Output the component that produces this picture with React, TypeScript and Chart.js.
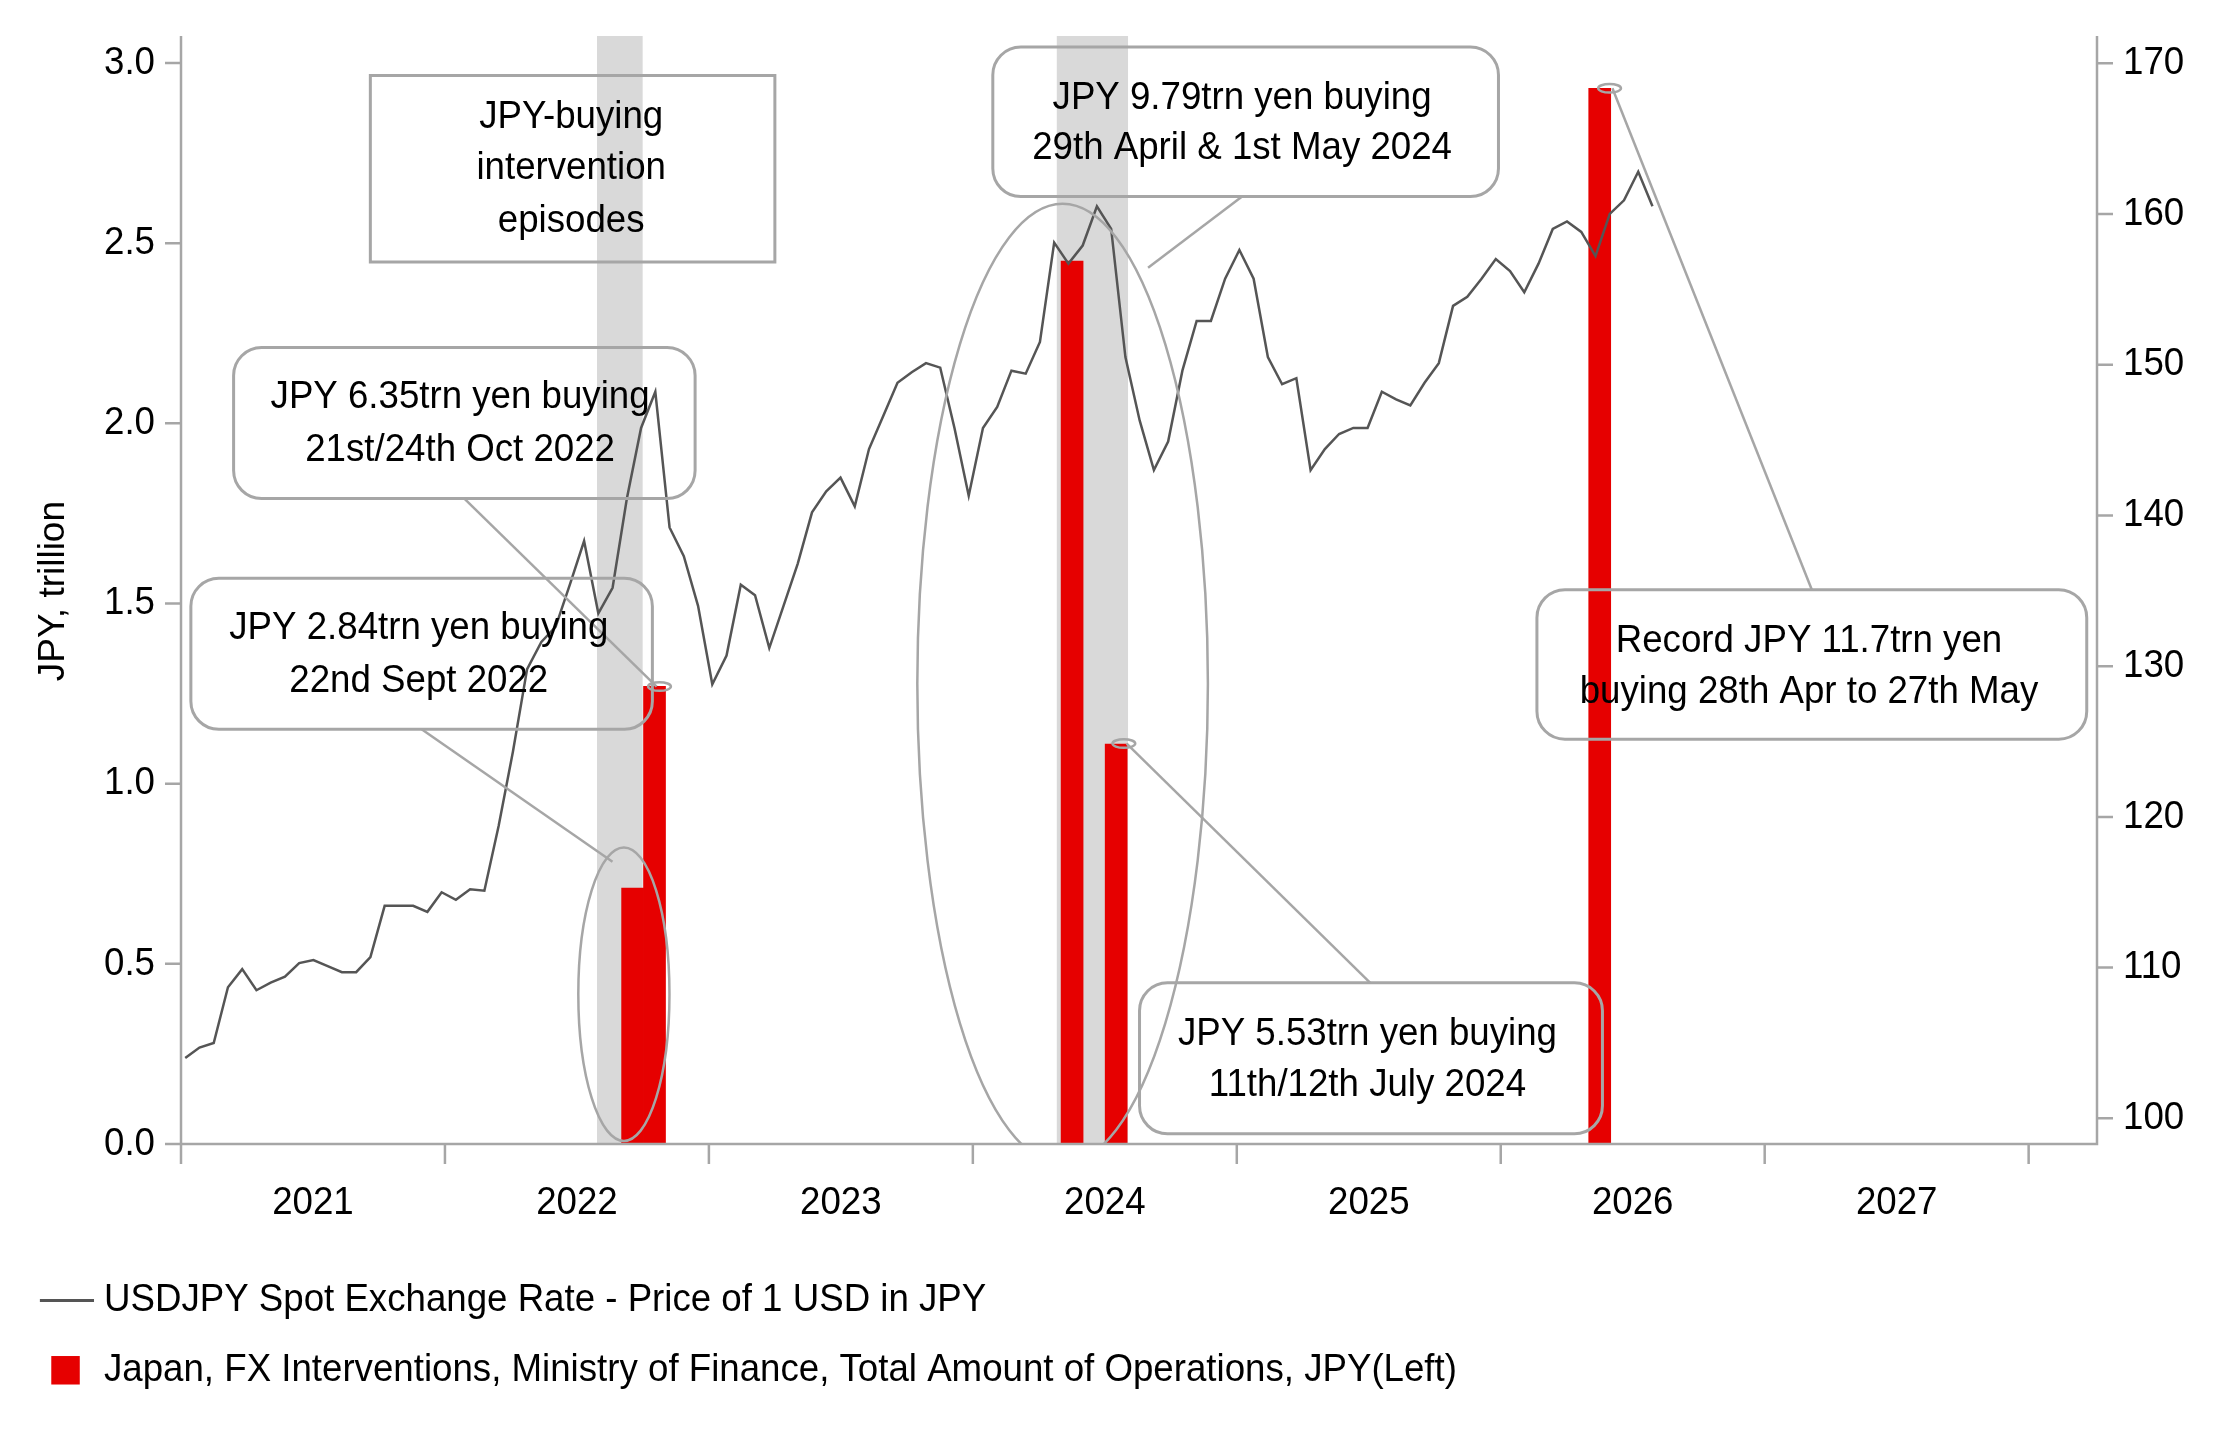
import React, { useEffect, useRef } from "react";
import { Chart, registerables } from "chart.js";
Chart.register(...registerables);

// ---- data ----
const lineStart = 2021.016;
const lineStep = 0.05397;
const usdjpy = [104.0,104.7,105.0,108.7,109.9,108.5,109.0,109.4,110.3,110.5,110.1,109.7,109.7,110.7,114.1,114.1,114.1,113.7,115.0,114.5,115.2,115.1,119.4,124.3,129.8,131.6,132.6,135.4,138.3,133.5,135.2,141.1,145.8,148.2,139.2,137.3,134.0,128.8,130.7,135.4,134.7,131.2,134.0,136.8,140.2,141.6,142.5,140.6,144.4,146.6,148.8,149.5,150.1,149.8,145.8,141.3,145.8,147.2,149.6,149.4,151.5,158.1,156.7,157.9,160.5,159.0,150.5,146.3,143.0,144.9,149.6,152.9,152.9,155.7,157.6,155.7,150.5,148.7,149.1,143.0,144.4,145.4,145.8,145.8,148.2,147.7,147.3,148.8,150.1,153.9,154.5,155.7,157.0,156.2,154.8,156.7,159.0,159.5,158.8,157.2,160.0,160.9,162.8,160.5];
const barDates = [2022.711, 2022.794, 2024.376, 2024.543, 2026.375];
const barValues = [0.71, 1.27, 2.45, 1.11, 2.93];
const shadeStart = [2022.576, 2024.318];
const shadeEnd = [2022.749, 2024.588];
const yearTicks = [2021, 2022, 2023, 2024, 2025, 2026, 2027, 2028];
const yearLabels = ["2021", "2022", "2023", "2024", "2025", "2026", "2027"];
const leftTicks = [0, 0.5, 1.0, 1.5, 2.0, 2.5, 3.0];
const rightTicks = [100, 110, 120, 130, 140, 150, 160, 170];
const legendLabels = [
  "USDJPY Spot Exchange Rate - Price of 1 USD in JPY",
  "Japan, FX Interventions, Ministry of Finance, Total Amount of Operations, JPY(Left)",
];

// ---- annotation layout (reference px) ----
const S = 1.4244;
const P = (v: number) => v * S - 8;
const boxes = [
  { r: [260, 53, 544, 184], round: false, lines: ["JPY-buying", "intervention", "episodes"], cx: 401, ys: [82, 118, 155] },
  { r: [164, 244, 488, 350], round: true, lines: ["JPY 6.35trn yen buying", "21st/24th Oct 2022"], cx: 323, ys: [279, 316] },
  { r: [134, 406, 458, 512], round: true, lines: ["JPY 2.84trn yen buying", "22nd Sept 2022"], cx: 294, ys: [441, 478] },
  { r: [697, 33, 1052, 138], round: true, lines: ["JPY 9.79trn yen buying", "29th April & 1st May 2024"], cx: 872, ys: [69, 104] },
  { r: [800, 690, 1125, 796], round: true, lines: ["JPY 5.53trn yen buying", "11th/12th July 2024"], cx: 960, ys: [726, 762] },
  { r: [1079, 414, 1465, 519], round: true, lines: ["Record JPY 11.7trn yen", "buying 28th Apr to 27th May"], cx: 1270, ys: [450, 486] },
];
const connectors = [
  [326, 350, 461, 482],
  [296, 512, 430, 605],
  [872, 138, 806, 188],
  [962, 690, 791, 522],
  [1272, 414, 1132, 62],
];
const ellipses = [
  [463, 482, 8, 3], [438, 698, 32, 103], [746, 480, 102, 337], [789, 522, 8, 3], [1130, 62, 8, 3],
];

const FONT = "39px 'Liberation Sans', Arial, sans-serif";
function txt(ctx: CanvasRenderingContext2D, s: string, x: number, y: number, align: "left" | "center" | "right") {
  ctx.save();
  ctx.font = FONT;
  ctx.textBaseline = "middle";
  ctx.textAlign = align;
  ctx.translate(x, y);
  ctx.scale(0.94, 1);
  ctx.fillStyle = "#000";
  ctx.fillText(s, 0, 0);
  ctx.restore();
}

const drawPlugin = {
  id: "custom",
  beforeDatasetsDraw(chart: any) {
    const { ctx, chartArea: a, scales } = chart;
    ctx.save();
    ctx.fillStyle = "#d9d9d9";
    for (let i = 0; i < shadeStart.length; i++) {
      const x1 = scales.x.getPixelForValue(shadeStart[i]);
      const x2 = scales.x.getPixelForValue(shadeEnd[i]);
      ctx.fillRect(x1, a.top, x2 - x1, a.bottom - a.top);
    }
    ctx.restore();
  },
  afterDatasetsDraw(chart: any) {
    const { ctx, chartArea: a, scales } = chart;
    ctx.save();
    ctx.strokeStyle = "#a6a6a6";
    ctx.lineWidth = 2.5;
    ctx.beginPath();
    ctx.moveTo(a.left, a.top); ctx.lineTo(a.left, a.bottom); ctx.lineTo(a.right, a.bottom); ctx.lineTo(a.right, a.top);
    for (const t of leftTicks) { const y = scales.y.getPixelForValue(t); ctx.moveTo(a.left - 16, y); ctx.lineTo(a.left, y); }
    for (const t of rightTicks) { const y = scales.y2.getPixelForValue(t); ctx.moveTo(a.right, y); ctx.lineTo(a.right + 16, y); }
    for (const t of yearTicks) { const x = scales.x.getPixelForValue(t); ctx.moveTo(x, a.bottom); ctx.lineTo(x, a.bottom + 20); }
    ctx.stroke();
    for (const t of leftTicks) txt(ctx, t.toFixed(1), a.left - 26, scales.y.getPixelForValue(t), "right");
    for (const t of rightTicks) txt(ctx, String(t), a.right + 26, scales.y2.getPixelForValue(t), "left");
    yearLabels.forEach((l, i) => txt(ctx, l, scales.x.getPixelForValue(yearTicks[i] + 0.5), P(845), "center"));
    ctx.save();
    ctx.translate(P(38), P(415));
    ctx.rotate(-Math.PI / 2);
    ctx.font = "37px 'Liberation Sans', Arial, sans-serif";
    ctx.textAlign = "center"; ctx.textBaseline = "middle"; ctx.fillStyle = "#000";
    ctx.fillText("JPY, trillion", 0, 0);
    ctx.restore();
    ctx.save();
    ctx.beginPath(); ctx.rect(a.left, a.top - 20, a.right - a.left, a.bottom - a.top + 20); ctx.clip();
    ctx.lineWidth = 2.5;
    for (const e of ellipses) { ctx.beginPath(); ctx.ellipse(P(e[0]), P(e[1]), e[2] * S, e[3] * S, 0, 0, Math.PI * 2); ctx.stroke(); }
    ctx.restore();
    for (const c of connectors) { ctx.beginPath(); ctx.moveTo(P(c[0]), P(c[1])); ctx.lineTo(P(c[2]), P(c[3])); ctx.stroke(); }
    for (const b of boxes) {
      const [x1, y1, x2, y2] = b.r;
      ctx.beginPath();
      if (b.round) ctx.roundRect(P(x1), P(y1), (x2 - x1) * S, (y2 - y1) * S, 28);
      else ctx.rect(P(x1), P(y1), (x2 - x1) * S, (y2 - y1) * S);
      ctx.lineWidth = 3;
      ctx.stroke();
      b.lines.forEach((l, i) => txt(ctx, l, P(b.cx), P(b.ys[i]), "center"));
    }
    ctx.strokeStyle = "#555"; ctx.lineWidth = 3;
    ctx.beginPath(); ctx.moveTo(P(28), P(913)); ctx.lineTo(P(66), P(913)); ctx.stroke();
    txt(ctx, legendLabels[0], P(73), P(913), "left");
    ctx.fillStyle = "#e60000";
    ctx.fillRect(P(36), P(952), 20 * S, 20 * S);
    txt(ctx, legendLabels[1], P(73), P(962), "left");
    ctx.restore();
  },
};

export default function App() {
  const ref = useRef<HTMLCanvasElement>(null);
  useEffect(() => {
    const chart = new Chart(ref.current!, {
      type: "bar",
      data: {
        datasets: [
          {
            type: "line",
            data: usdjpy.map((v, i) => ({ x: lineStart + i * lineStep, y: v })),
            yAxisID: "y2",
            borderColor: "#555555",
            borderWidth: 2.5,
            pointRadius: 0,
            tension: 0,
            order: 1,
          } as any,
          {
            type: "bar",
            data: barDates.map((d, i) => ({ x: d, y: barValues[i] })),
            yAxisID: "y",
            backgroundColor: "#e60000",
            barThickness: 22,
            grouped: false,
            order: 2,
          } as any,
        ],
      },
      options: {
        animation: false,
        responsive: false,
        devicePixelRatio: 1,
        layout: { padding: { left: 173, right: 117, top: 28, bottom: 284 } },
        plugins: { legend: { display: false }, tooltip: { enabled: false } },
        scales: {
          x: { type: "linear", min: 2021, max: 2028.259, offset: false, display: false },
          y: { type: "linear", min: 0, max: 3.075, display: false },
          y2: { type: "linear", min: 98.3, max: 171.8, display: false },
        },
      },
      plugins: [drawPlugin],
    });
    return () => chart.destroy();
  }, []);
  return <canvas ref={ref} width={2206} height={1420} style={{ display: "block" }} />;
}
